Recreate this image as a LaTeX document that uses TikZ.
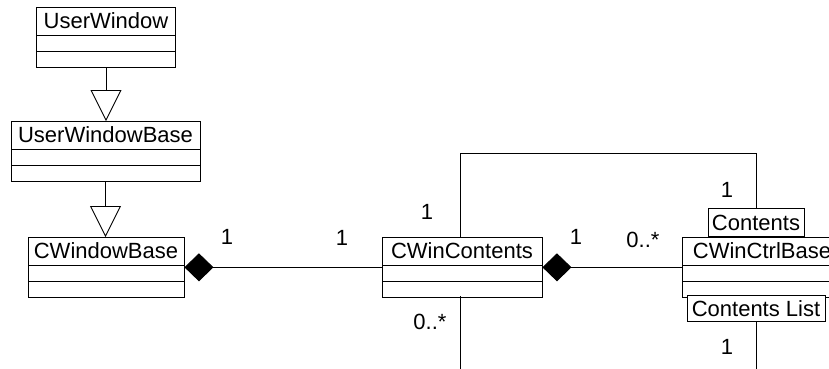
\documentclass[tikz,border=0pt]{standalone}
\usepackage{fontspec}
\setmainfont{Liberation Sans}
\usetikzlibrary{arrows.meta,positioning,calc,shapes.multipart}
\tikzset{
  osztaly/.style={draw,rectangle split,rectangle split parts=3,
    rectangle split empty part height=15pt,rectangle split empty part depth=0pt,
    inner xsep=0pt,inner ysep=0pt,anchor=north,
    execute at begin node={\rule[-6pt]{0pt}{27pt}}},
  minosito/.style={draw,fill=white,inner xsep=0pt,inner ysep=0pt},
  szam/.style={inner sep=0pt},
  orokles/.style={-{Triangle[open,length=31pt,width=31pt,fill=white]}},
  kompoz/.style={-{Diamond[length=29pt,width=28pt]}},
}

\begin{document}
\begin{tikzpicture}[x=1pt,y=-1pt,line width=0.9pt,font=\fontsize{22}{22}\selectfont]
  \useasboundingbox (0,0) rectangle (829,368);
  % osztalyok
  \node[osztaly,minimum width=139pt] (uw) at (106,7) {UserWindow};
  \node[osztaly,minimum width=189pt] (uwb) at (105.5,121) {UserWindowBase};
  \node[osztaly,minimum width=156pt] (cwb) at (106,237) {CWindowBase};
  \node[osztaly,minimum width=160pt] (cwc) at (462,237) {CWinContents};
  \node[osztaly,minimum width=160pt] (cwcb) at (762,237) {CWinCtrlBase};
  \node[minosito,minimum width=96pt,minimum height=28pt,anchor=south] (ctq) at (756,237) {Contents};
  \node[minosito,minimum width=138pt,minimum height=26pt,anchor=north] (ctl) at (756,295) {Contents List};
  % oroklodes
  \draw[orokles] (uw.south) -- (uw.south |- uwb.north);
  \draw[orokles] (uwb.south) -- (uwb.south |- cwb.north);
  % kompozicio
  \draw[kompoz] (cwc.west) -- (cwb.east);
  \draw[kompoz] (cwcb.west) -- (cwc.east);
  % onmagara mutato kapcsolat
  \coordinate (hurok) at (0,153);
  \coordinate (lent) at (0,372);
  \draw (cwc.north -| 460,0) -- (460,153) -- (ctq.north |- hurok) -- (ctq.north);
  \draw (460,296) -- (460,372);
  \draw (ctl.south) -- (ctl.south |- lent);
  % multiplicitasok
  \node[szam] (m1) at (227,237) {1};
  \node[szam] (m2) at (342,238) {1};
  \node[szam] (m3) at (576,237) {1};
  \node[szam] (m4) at (643,240) {0..*};
  \node[szam] (m5) at (427,212) {1};
  \node[szam] (m6) at (727,190) {1};
  \node[szam] (m7) at (430,322) {0..*};
  \node[szam] (m8) at (727,347) {1};
\end{tikzpicture}
\end{document}
